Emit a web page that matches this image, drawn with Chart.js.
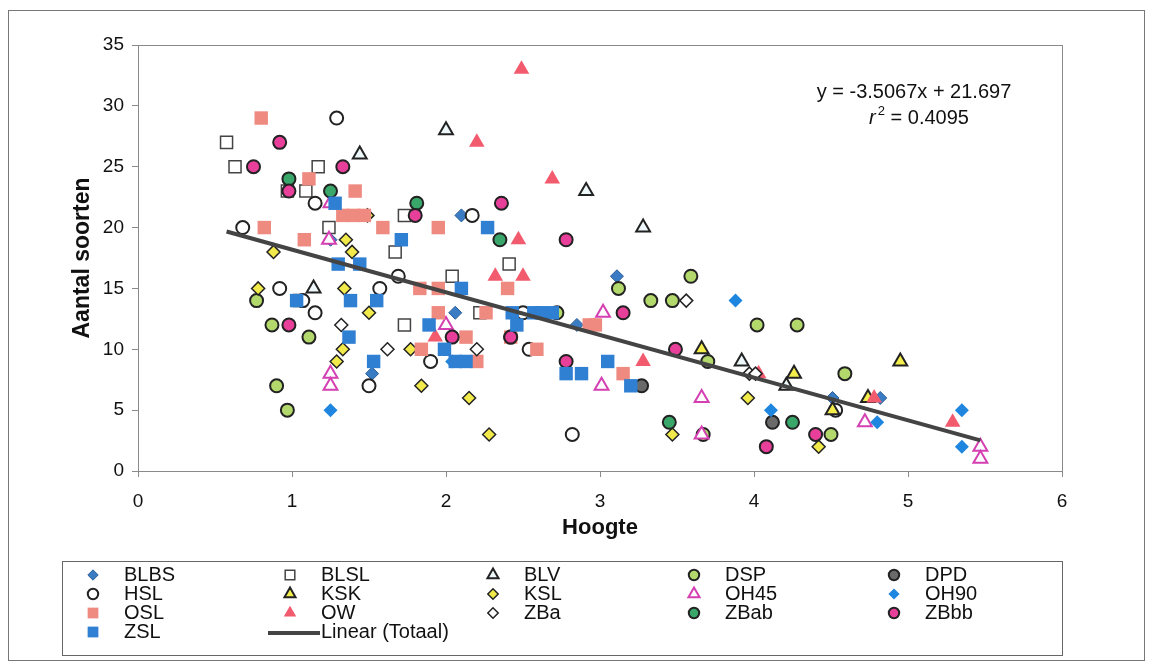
<!DOCTYPE html>
<html>
<head>
<meta charset="utf-8">
<script src="https://cdn.jsdelivr.net/npm/chart.js@4"></script>
<style>
  html, body { margin: 0; padding: 0; background: #fff; }
  canvas { display: block; }
</style>
</head>
<body>
<canvas id="hoogteChart" width="1153" height="670"></canvas>
<script>
// series values, [hoogte, aantal soorten]
const BLBS = [[2.10, 21], [1.25, 19], [3.11, 16], [2.06, 13], [2.85, 12], [1.52, 8], [4.51, 6], [4.82, 6]];
const BLSL = [[0.575, 27], [0.63, 25], [1.17, 25], [0.97, 23], [1.09, 23], [1.24, 20], [1.73, 21], [1.67, 18],
  [2.41, 17], [2.04, 16], [2.22, 13], [1.73, 12], [1.05, 14]];
const BLV = [[2.00, 28], [1.44, 26], [2.91, 23], [3.28, 20], [1.14, 15], [3.92, 9], [4.21, 7]];
const DSP = [[3.59, 16], [3.12, 15], [0.77, 14], [3.33, 14], [3.47, 14], [0.87, 12], [4.02, 12], [4.28, 12],
  [1.11, 11], [3.70, 9], [4.59, 8], [0.90, 7], [0.97, 5], [4.50, 3], [3.67, 3], [2.72, 13]];
const DPD = [[3.27, 7], [4.12, 4]];
const HSL = [[1.29, 29], [1.15, 22], [0.68, 20], [2.17, 21], [1.69, 16], [0.92, 15], [1.57, 15], [1.15, 13],
  [2.50, 13], [1.90, 9], [1.50, 7], [2.54, 10], [2.82, 3], [4.53, 5], [1.07, 14], [2.42, 11]];
const KSK = [[3.66, 10], [4.26, 8], [4.95, 9], [4.74, 6], [4.51, 5]];
const KSL = [[0.88, 18], [0.78, 15], [1.34, 15], [1.35, 19], [1.39, 18], [1.29, 9], [1.33, 10], [1.50, 13],
  [1.49, 21], [1.77, 10], [1.84, 7], [2.15, 6], [2.28, 3], [3.47, 3], [3.96, 6], [4.42, 2]];
const OH45 = [[1.25, 22], [1.24, 19], [2.00, 12], [3.02, 13], [1.25, 8], [1.25, 7], [3.01, 7], [3.66, 6],
  [4.72, 4], [3.66, 3], [5.47, 2], [5.47, 1]];
const OH90 = [[3.88, 14], [1.25, 5], [4.11, 5], [5.35, 5], [4.80, 4], [5.35, 2], [2.04, 9]];
const OSL = [[0.80, 29], [1.11, 24], [1.41, 23], [1.33, 21], [1.40, 21], [1.47, 21], [0.82, 20], [1.59, 20],
  [1.95, 20], [1.08, 19], [1.83, 15], [1.95, 15], [2.40, 15], [1.95, 13], [2.26, 13], [2.93, 12], [2.97, 12],
  [2.13, 11], [2.42, 11], [1.84, 10], [2.59, 10], [2.20, 9], [3.15, 8]];
const OW = [[2.49, 33], [2.20, 27], [2.69, 24], [2.47, 19], [2.32, 16], [2.50, 16], [1.93, 11], [3.28, 9],
  [4.03, 8], [4.78, 6], [5.29, 4]];
const ZBa = [[1.32, 12], [1.62, 10], [2.20, 10], [3.56, 14], [3.97, 8], [4.01, 8]];
const ZBab = [[0.98, 24], [1.25, 23], [1.81, 22], [2.35, 19], [3.45, 4], [4.25, 4]];
const ZBbb = [[0.92, 27], [0.75, 25], [1.33, 25], [0.98, 23], [2.36, 22], [1.80, 21], [2.78, 19], [3.15, 13],
  [0.98, 12], [2.04, 11], [2.42, 11], [3.49, 10], [2.78, 9], [4.40, 3], [4.08, 2]];
const ZSL = [[1.28, 22], [2.27, 20], [1.71, 19], [1.30, 17], [1.44, 17], [2.10, 15], [1.03, 14], [1.38, 14],
  [1.55, 14], [2.43, 13], [2.57, 13], [2.62, 13], [2.69, 13], [1.89, 12], [2.46, 12], [1.37, 11], [1.99, 10],
  [2.06, 9], [2.13, 9], [1.53, 9], [3.05, 9], [2.78, 8], [2.88, 8], [3.20, 7]];

// trend line "Linear (Totaal)"
const trendSlope = -3.5067;
const trendIntercept = 21.697;
const trendRange = [0.575, 5.47];

const xTicks = [0, 1, 2, 3, 4, 5, 6];
const yTicks = [0, 5, 10, 15, 20, 25, 30, 35];

const series = [
  { name: 'BLBS', data: BLBS, style: 'rectRot', r: 6.5, bg: '#3a7cc4', bc: '#2b5e97', bw: 1 },
  { name: 'BLSL', data: BLSL, style: 'rect', r: 8.5, bg: '#ffffff', bc: '#444444', bw: 1.5 },
  { name: 'BLV', data: BLV, style: 'triangle', r: 8, bg: '#eef8fa', bc: '#222222', bw: 2 },
  { name: 'DSP', data: DSP, style: 'circle', r: 6.5, bg: '#b3d96c', bc: '#222222', bw: 2 },
  { name: 'DPD', data: DPD, style: 'circle', r: 6.5, bg: '#6a6a6a', bc: '#222222', bw: 2 },
  { name: 'HSL', data: HSL, style: 'circle', r: 6.5, bg: '#ffffff', bc: '#222222', bw: 2 },
  { name: 'KSK', data: KSK, style: 'triangle', r: 8, bg: '#f3ee4c', bc: '#222222', bw: 2 },
  { name: 'KSL', data: KSL, style: 'rectRot', r: 6.5, bg: '#f1ea4a', bc: '#222222', bw: 1.5 },
  { name: 'OH45', data: OH45, style: 'triangle', r: 8, bg: '#ffffff', bc: '#d43fb2', bw: 2 },
  { name: 'OH90', data: OH90, style: 'rectRot', r: 7, bg: '#1f86e0', bc: '#1f86e0', bw: 0 },
  { name: 'OSL', data: OSL, style: 'rect', r: 9.5, bg: '#ee8a80', bc: '#ee8a80', bw: 0 },
  { name: 'OW', data: OW, style: 'triangle', r: 9, bg: '#f25a6e', bc: '#f25a6e', bw: 0 },
  { name: 'ZBa', data: ZBa, style: 'rectRot', r: 6.5, bg: '#ffffff', bc: '#222222', bw: 1.5 },
  { name: 'ZBab', data: ZBab, style: 'circle', r: 6.5, bg: '#3aa76a', bc: '#222222', bw: 2 },
  { name: 'ZBbb', data: ZBbb, style: 'circle', r: 6.5, bg: '#e8409a', bc: '#222222', bw: 2 },
  { name: 'ZSL', data: ZSL, style: 'rect', r: 9.5, bg: '#2f7fd3', bc: '#2f7fd3', bw: 0 }
];

const FONT = "'Liberation Sans', Arial, sans-serif";

const datasets = series.map((s, i) => ({
  label: s.name,
  data: s.data.map(([x, y]) => ({ x, y })),
  pointStyle: s.style,
  pointRadius: s.r,
  pointHoverRadius: s.r,
  backgroundColor: s.bg,
  borderColor: s.bc,
  borderWidth: s.bw,
  showLine: false,
  order: 100 - i
}));

datasets.push({
  label: 'Linear (Totaal)',
  type: 'line',
  data: trendRange.map(x => ({ x, y: trendSlope * x + trendIntercept })),
  borderColor: '#444444',
  borderWidth: 4,
  pointRadius: 0,
  fill: false,
  order: 0
});

// plot frame, outer border, equation and legend
const extras = {
  id: 'extras',
  beforeDatasetsDraw(chart) {
    const { ctx, chartArea: a } = chart;
    ctx.save();
    ctx.strokeStyle = '#8a8a8a';
    ctx.lineWidth = 1;
    ctx.strokeRect(a.left + 0.5, a.top + 0.5, a.right - a.left, a.bottom - a.top);
    ctx.restore();
  },
  afterDraw(chart) {
    const { ctx, chartArea: a } = chart;
    ctx.save();
    ctx.strokeStyle = '#777';
    ctx.lineWidth = 1;
    ctx.strokeRect(8.5, 10.5, 1136, 650);

    // equation
    ctx.fillStyle = '#111';
    ctx.textAlign = 'center';
    ctx.textBaseline = 'middle';
    ctx.font = '20px ' + FONT;
    const ex = a.right - 148;
    ctx.fillText('y = -3.5067x + 21.697', ex, a.top + 47);
    ctx.font = 'italic 20px ' + FONT;
    const rw = ctx.measureText('r').width;
    ctx.font = '20px ' + FONT;
    const rest = ' = 0.4095';
    const restW = ctx.measureText(rest).width;
    ctx.font = '13px ' + FONT;
    const supW = ctx.measureText('2').width;
    let sx = ex + 4 - (rw + supW + restW) / 2;
    ctx.textAlign = 'left';
    ctx.font = 'italic 20px ' + FONT;
    ctx.fillText('r', sx, a.top + 73);
    ctx.font = '13px ' + FONT;
    ctx.fillText('2', sx + rw + 2, a.top + 66);
    ctx.font = '20px ' + FONT;
    ctx.fillText(rest, sx + rw + supW + 2, a.top + 73);

    // legend
    const box = { left: 62, top: 561, right: 1062, bottom: 655 };
    ctx.strokeStyle = '#666';
    ctx.strokeRect(box.left + 0.5, box.top + 0.5, box.right - box.left, box.bottom - box.top);
    ctx.font = '20px ' + FONT;
    ctx.textBaseline = 'middle';
    ctx.textAlign = 'left';
    const rowY = [575, 594, 613, 632];
    const colX = [93, 290, 493, 694, 894];
    const drawPoint = Chart.helpers && Chart.helpers.drawPoint;
    chart.data.datasets.forEach((ds, i) => {
      const row = Math.floor(i / 5);
      const col = i % 5;
      const y = rowY[row];
      const x = colX[col];
      if (ds.type === 'line') {
        ctx.strokeStyle = ds.borderColor;
        ctx.lineWidth = 4;
        ctx.beginPath();
        ctx.moveTo(x - 22, y + 1);
        ctx.lineTo(x + 30, y + 1);
        ctx.stroke();
        ctx.fillStyle = '#111';
        ctx.fillText(ds.label, x + 31, y);
        return;
      }
      ctx.fillStyle = ds.backgroundColor;
      ctx.strokeStyle = ds.borderColor;
      ctx.lineWidth = ds.borderWidth;
      if (drawPoint) {
        drawPoint(ctx, { pointStyle: ds.pointStyle, radius: ds.pointRadius * 0.8, rotation: 0, borderWidth: ds.borderWidth }, x, y);
      }
      ctx.fillStyle = '#111';
      ctx.fillText(ds.label, x + 31, y);
    });
    ctx.restore();
  }
};

new Chart(document.querySelector('#hoogteChart'), {
  type: 'scatter',
  data: { datasets },
  options: {
    responsive: false,
    animation: false,
    events: [],
    layout: { padding: { left: 66, right: 91, top: 45, bottom: 125 } },
    plugins: {
      legend: { display: false },
      tooltip: { enabled: false }
    },
    scales: {
      x: {
        type: 'linear',
        min: 0,
        max: 6,
        afterBuildTicks: (s) => { s.ticks = xTicks.map(v => ({ value: v })); },
        afterFit: (s) => { s.height = 74; },
        grid: { drawOnChartArea: false, tickLength: 6, color: '#8a8a8a' },
        border: { color: '#8a8a8a', width: 1 },
        ticks: { color: '#111', font: { family: FONT, size: 19 }, padding: 13, maxRotation: 0 },
        title: { display: true, text: 'Hoogte', color: '#111', font: { family: FONT, size: 22, weight: 'bold' }, padding: { top: 0, bottom: 4 } }
      },
      y: {
        type: 'linear',
        min: 0,
        max: 35,
        afterBuildTicks: (s) => { s.ticks = yTicks.map(v => ({ value: v })); },
        afterFit: (s) => { s.width = 72; },
        grid: { drawOnChartArea: false, tickLength: 6, color: '#8a8a8a' },
        border: { color: '#8a8a8a', width: 1 },
        ticks: { color: '#111', font: { family: FONT, size: 19 }, padding: 8 },
        title: { display: true, text: 'Aantal soorten', color: '#111', font: { family: FONT, size: 23, weight: 'bold' }, padding: { top: 3, bottom: 4 } }
      }
    }
  },
  plugins: [extras]
});
</script>
</body>
</html>
